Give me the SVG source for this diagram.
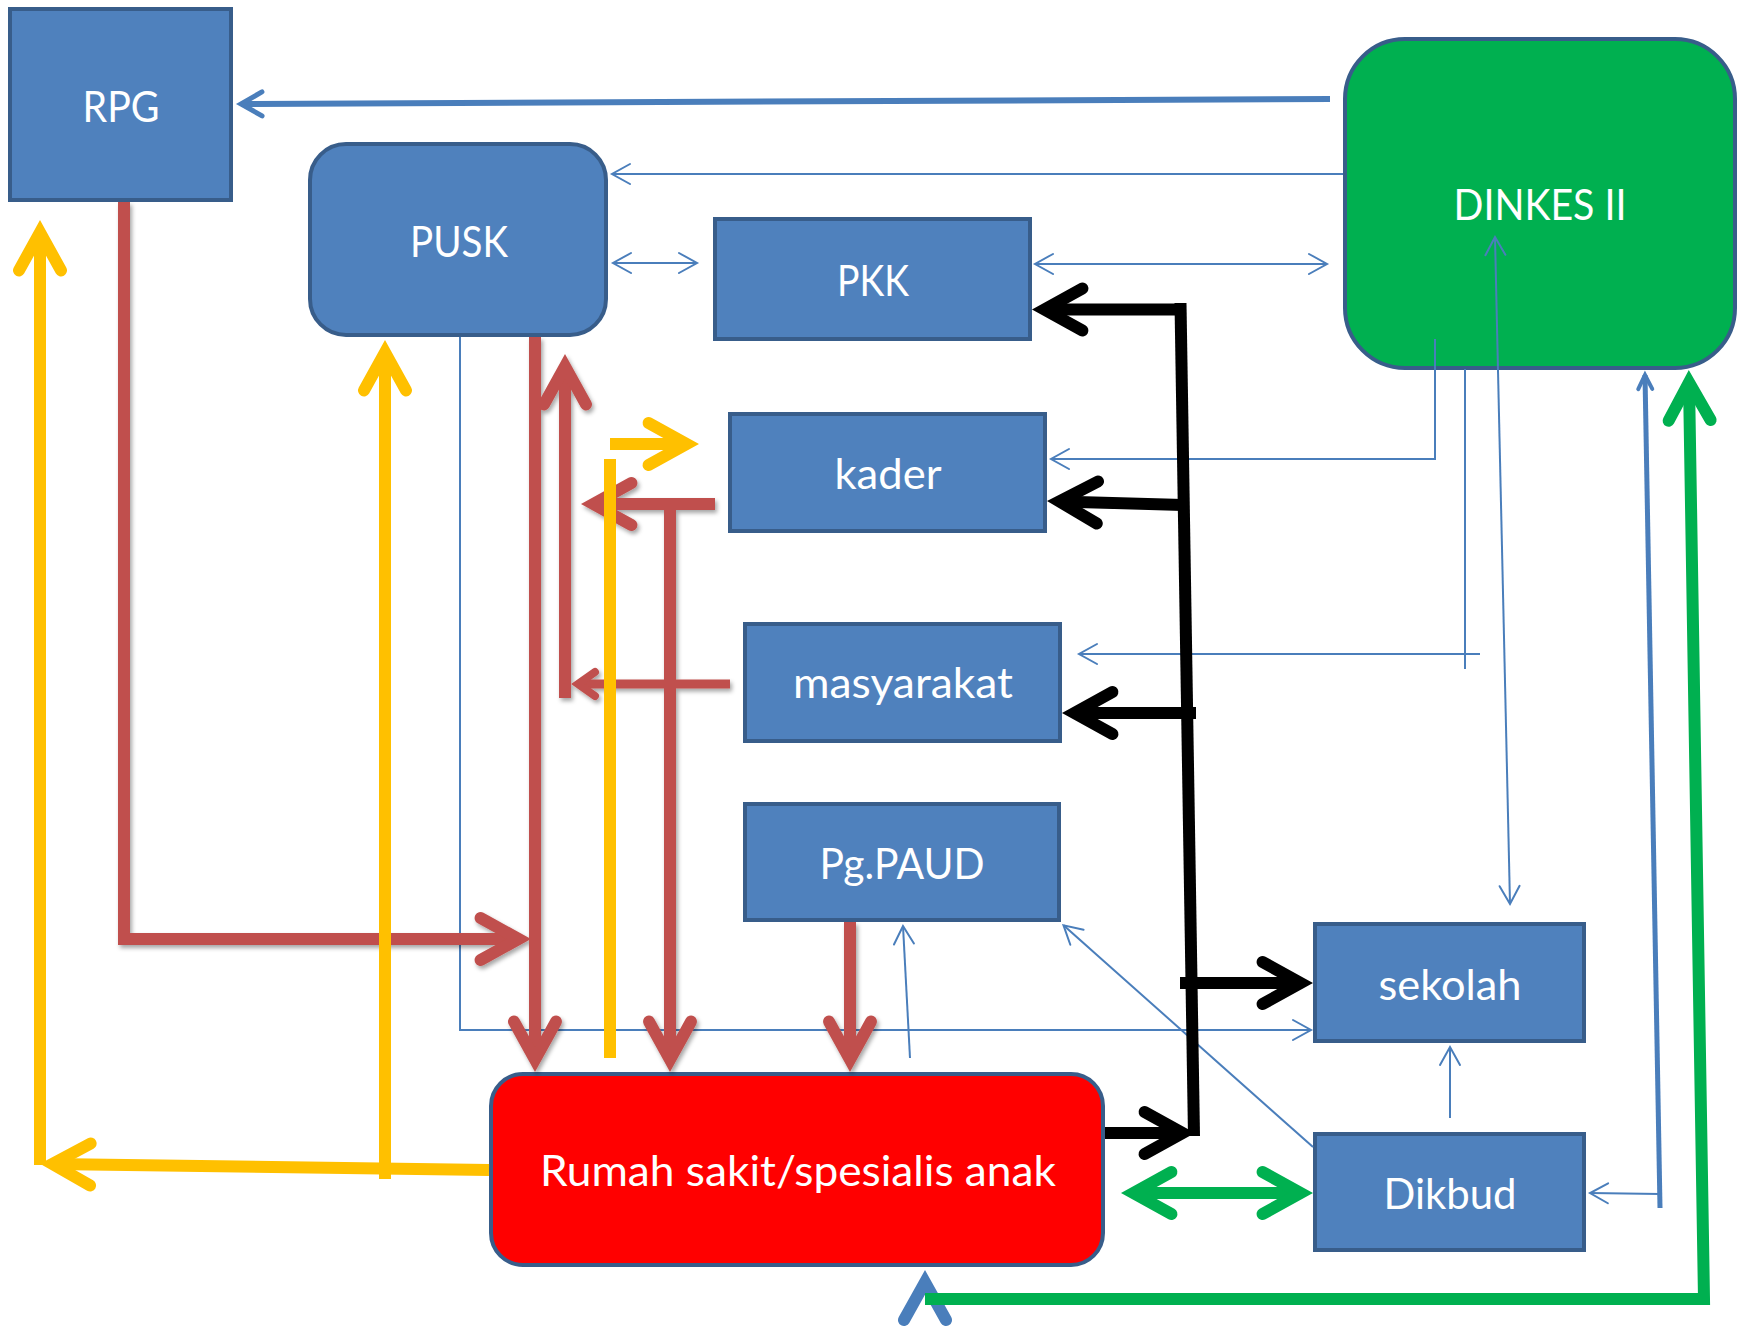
<svg xmlns="http://www.w3.org/2000/svg" width="1746" height="1327" viewBox="0 0 1746 1327">
<defs>
<style>
.box{fill:#4F81BD;stroke:#385D8A;stroke-width:4}
.lbl{font-family:Lato,"Open Sans","Liberation Sans",sans-serif;font-size:42px;fill:#FFFFFF;text-anchor:middle}
.c{fill:none;stroke-linejoin:miter;stroke-miterlimit:10}
.thin{stroke:#4A7EBB;stroke-width:2}
.red{stroke:#C0504D;stroke-width:12}
.redsm{stroke:#C0504D;stroke-width:9}
.yel{stroke:#FFC000;stroke-width:12}
.blk{stroke:#000000;stroke-width:12}
.grn{stroke:#00B050;stroke-width:12}
.bmed{stroke:#4A7EBB;stroke-width:5}
.bthick{stroke:#4A7EBB;stroke-width:6}
.bhead{stroke:#4A7EBB;stroke-width:12;stroke-linecap:round}
</style>
<filter id="sh" filterUnits="userSpaceOnUse" x="0" y="0" width="1746" height="1327">
<feDropShadow dx="2" dy="3" stdDeviation="2" flood-color="#000" flood-opacity="0.35"/>
</filter>
<marker id="aR" markerUnits="userSpaceOnUse" orient="auto-start-reverse" overflow="visible" markerWidth="1" markerHeight="1" style="overflow:visible"><path d="M-38,-21L0,0L-38,21" fill="none" stroke="#C0504D" stroke-width="12" stroke-linecap="round" stroke-miterlimit="10"/></marker>
<marker id="aRs" markerUnits="userSpaceOnUse" orient="auto-start-reverse" overflow="visible" markerWidth="1" markerHeight="1" style="overflow:visible"><path d="M-17,-12L0,0L-17,12" fill="none" stroke="#C0504D" stroke-width="8" stroke-linecap="round" stroke-miterlimit="10"/></marker>
<marker id="aY" markerUnits="userSpaceOnUse" orient="auto-start-reverse" overflow="visible" markerWidth="1" markerHeight="1" style="overflow:visible"><path d="M-38,-21L0,0L-38,21" fill="none" stroke="#FFC000" stroke-width="12" stroke-linecap="round" stroke-miterlimit="10"/></marker>
<marker id="aK" markerUnits="userSpaceOnUse" orient="auto-start-reverse" overflow="visible" markerWidth="1" markerHeight="1" style="overflow:visible"><path d="M-38,-21L0,0L-38,21" fill="none" stroke="#000000" stroke-width="12" stroke-linecap="round" stroke-miterlimit="10"/></marker>
<marker id="aG" markerUnits="userSpaceOnUse" orient="auto-start-reverse" overflow="visible" markerWidth="1" markerHeight="1" style="overflow:visible"><path d="M-38,-21L0,0L-38,21" fill="none" stroke="#00B050" stroke-width="12" stroke-linecap="round" stroke-miterlimit="10"/></marker>
<marker id="aB" markerUnits="userSpaceOnUse" orient="auto-start-reverse" overflow="visible" markerWidth="1" markerHeight="1" style="overflow:visible"><path d="M-18,-10L0,0L-18,10" fill="none" stroke="#4A7EBB" stroke-width="2" stroke-linecap="round" stroke-miterlimit="10"/></marker>
<marker id="aBm" markerUnits="userSpaceOnUse" orient="auto-start-reverse" overflow="visible" markerWidth="1" markerHeight="1" style="overflow:visible"><path d="M-14,-7L0,0L-14,7" fill="none" stroke="#4A7EBB" stroke-width="4" stroke-linecap="round" stroke-miterlimit="10"/></marker>
<marker id="aBt" markerUnits="userSpaceOnUse" orient="auto-start-reverse" overflow="visible" markerWidth="1" markerHeight="1" style="overflow:visible"><path d="M-21,-12L0,0L-21,12" fill="none" stroke="#4A7EBB" stroke-width="5" stroke-linecap="round" stroke-miterlimit="10"/></marker>
</defs>
<rect x="0" y="0" width="1746" height="1327" fill="#FFFFFF"/>

<g id="node-rpg">
<rect class="box" x="10" y="9" width="221" height="191"/>
<text class="lbl" x="121" y="122" textLength="77" lengthAdjust="spacingAndGlyphs">RPG</text>
</g>
<g id="node-pusk">
<rect class="box" x="310" y="144" width="296" height="191" rx="36" ry="36"/>
<text class="lbl" x="459" y="257" textLength="98" lengthAdjust="spacingAndGlyphs">PUSK</text>
</g>
<g id="node-pkk">
<rect class="box" x="715" y="219" width="315" height="120"/>
<text class="lbl" x="873" y="296" textLength="72" lengthAdjust="spacingAndGlyphs">PKK</text>
</g>
<g id="node-dinkes">
<rect x="1345" y="39" width="390" height="329" rx="60" ry="60" fill="#00B050" stroke="#385D8A" stroke-width="4"/>
<text class="lbl" x="1540" y="220" textLength="173" lengthAdjust="spacingAndGlyphs">DINKES II</text>
</g>
<g id="node-kader">
<rect class="box" x="730" y="414" width="315" height="117"/>
<text class="lbl" x="888" y="489" textLength="107" lengthAdjust="spacingAndGlyphs">kader</text>
</g>
<g id="node-masyarakat">
<rect class="box" x="745" y="624" width="315" height="117"/>
<text class="lbl" x="903" y="698" textLength="220" lengthAdjust="spacingAndGlyphs">masyarakat</text>
</g>
<g id="node-paud">
<rect class="box" x="745" y="804" width="314" height="116"/>
<text class="lbl" x="902" y="879" textLength="165" lengthAdjust="spacingAndGlyphs">Pg.PAUD</text>
</g>
<g id="node-sekolah">
<rect class="box" x="1315" y="924" width="269" height="117"/>
<text class="lbl" x="1450" y="1000" textLength="143" lengthAdjust="spacingAndGlyphs">sekolah</text>
</g>
<g id="node-dikbud">
<rect class="box" x="1315" y="1134" width="269" height="116"/>
<text class="lbl" x="1450" y="1209" textLength="133" lengthAdjust="spacingAndGlyphs">Dikbud</text>
</g>
<g id="node-rumahsakit">
<rect x="491" y="1074" width="612" height="191" rx="32" ry="32" fill="#FF0000" stroke="#385D8A" stroke-width="4"/>
<text class="lbl" x="798" y="1186" textLength="516" lengthAdjust="spacingAndGlyphs">Rumah sakit/spesialis anak</text>
</g>

<g id="connectors">
<!-- thin blue -->
<g id="blue-connectors">
<path class="c bthick" d="M1330,99 L241,104" marker-end="url(#aBt)"/>
<path class="c thin" d="M1343,174 L612,174" marker-end="url(#aB)"/>
<path class="c thin" d="M613,263 L697,263" marker-start="url(#aB)" marker-end="url(#aB)"/>
<path class="c thin" d="M1035,264 L1327,264" marker-start="url(#aB)" marker-end="url(#aB)"/>
<path class="c thin" d="M1435,339 L1435,459 L1051,459" marker-end="url(#aB)"/>
<path class="c thin" d="M1465,369 L1465,669"/>
<path class="c thin" d="M1480,654 L1079,654" marker-end="url(#aB)"/>
<path class="c thin" d="M1495,237 L1510,904" marker-start="url(#aB)" marker-end="url(#aB)"/>
<path class="c bmed" d="M1660,1208 L1645,375" marker-end="url(#aBm)"/>
<path class="c thin" d="M1660,1194 L1590,1193" marker-end="url(#aB)"/>
<path class="c thin" d="M1450,1118 L1450,1047" marker-end="url(#aB)"/>
<path class="c thin" d="M1313,1147 L1063.5,925.3" marker-end="url(#aB)"/>
<path class="c thin" d="M910,1058 L903,926" marker-end="url(#aB)"/>
<path class="c thin" d="M460,337 L460,1030 L1311,1030" marker-end="url(#aB)"/>
<polyline class="c bhead" points="904,1320 925,1282.4 946,1320"/>
</g>
<!-- red -->
<g id="red-connectors" filter="url(#sh)">
<path class="c red" d="M124,202 L124,939 L518.6,939" marker-end="url(#aR)"/>
<path class="c red" d="M535,337 L535,1059.6" marker-end="url(#aR)"/>
<path class="c redsm" d="M730,684 L578,684" marker-end="url(#aRs)"/>
<path class="c red" d="M565,698 L565,366.4" marker-end="url(#aR)"/>
<path class="c red" d="M715,504 L593.4,504" marker-end="url(#aR)"/>
<path class="c red" d="M670,504 L670,1059.6" marker-end="url(#aR)"/>
<path class="c red" d="M850,922 L850,1059.6" marker-end="url(#aR)"/>
</g>
<!-- yellow -->
<g id="yellow-connectors">
<path class="c yel" d="M489,1170 L52.4,1164" marker-end="url(#aY)"/>
<path class="c yel" d="M40,1165 L40,232.4" marker-end="url(#aY)"/>
<path class="c yel" d="M385,1179 L385,352.4" marker-end="url(#aY)"/>
<path class="c yel" d="M610,1058 L610,459"/>
<path class="c yel" d="M610,444 L686.6,444" marker-end="url(#aY)"/>
</g>
<!-- black -->
<g id="black-connectors">
<path class="c blk" d="M1180.5,303 L1194,1136"/>
<path class="c blk" d="M1186,309.5 L1044.4,309.5" marker-end="url(#aK)"/>
<path class="c blk" d="M1183,505 L1059.4,501.4" marker-end="url(#aK)"/>
<path class="c blk" d="M1196,713 L1074.4,713" marker-end="url(#aK)"/>
<path class="c blk" d="M1180,983 L1300.6,983" marker-end="url(#aK)"/>
<path class="c blk" d="M1105,1133 L1182.6,1133" marker-end="url(#aK)"/>
</g>
<!-- green -->
<g id="green-connectors">
<path class="c grn" d="M925,1299 L1704,1299 L1689,382.4" marker-end="url(#aG)"/>
<path class="c grn" d="M1133.4,1193 L1300.6,1193" marker-start="url(#aG)" marker-end="url(#aG)"/>
</g>
</g>
</svg>
